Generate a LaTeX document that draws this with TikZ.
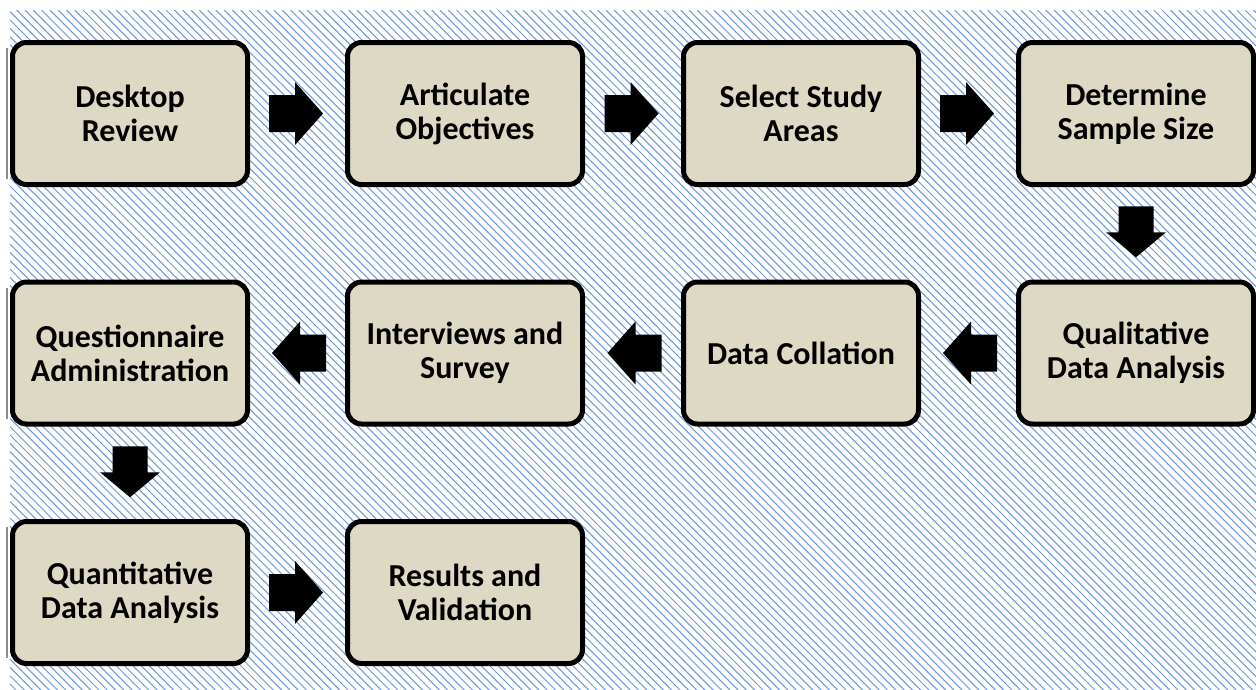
\documentclass[tikz,border=0pt]{standalone}
\usepackage{fontspec}
\setmainfont{Carlito}
\usetikzlibrary{calc}
\definecolor{boxfill}{RGB}{221,217,196}
\definecolor{hatchblue}{RGB}{110,152,214}
\tikzset{
  stepbox/.style={draw=black, line width=5pt, fill=boxfill, rounded corners=14pt,
    minimum width=235pt, minimum height=142pt, align=center,
    font=\fontsize{32pt}{34pt}\selectfont\bfseries, text=black},
  hatchline/.style={draw=hatchblue, line width=1.0pt},
  edgeline/.style={draw=black!45, line width=1.5pt},
  rarrow/.pic={\fill[black] (-27,-18.5) -- (-1,-18.5) -- (-1,-31.5) -- (27,0) -- (-1,31.5) -- (-1,18.5) -- (-27,18.5) -- cycle;},
  darrow/.pic={\fill[black] (-17.5,-25.5) -- (17.5,-25.5) -- (17.5,0.5) -- (30,0.5) -- (0,25.5) -- (-30,0.5) -- (-17.5,0.5) -- cycle;}
}
\begin{document}
\begin{tikzpicture}[x=1pt,y=-1pt]
\useasboundingbox (0,0) rectangle (1256,689);
\fill[white] (0,0) rectangle (1256,689);
\begin{scope}
  \clip (10,10) rectangle (1256,689);
  \foreach \i in {-86,...,152} \draw[hatchline] (\i*8.3,10) -- ++(690,690);
\end{scope}
% row 1
\node[stepbox] (desk)   at (130,113.5)  {Desktop\\Review};
\node[stepbox] (artic)  at (465,113.5)  {Articulate\\Objectives};
\node[stepbox] (select) at (801,113.5)  {Select Study\\Areas};
\node[stepbox] (sample) at (1136,113.5) {Determine\\Sample Size};
% row 2
\node[stepbox] (qual)   at (1136,353) {Qualitative\\Data Analysis};
\node[stepbox] (coll)   at (801,353)  {Data Collation};
\node[stepbox] (inter)  at (465,353)  {Interviews and\\Survey};
\node[stepbox] (quest)  at (130,353)  {Questionnaire\\Administration};
% row 3
\node[stepbox] (quant)   at (130,592.5) {Quantitative\\Data Analysis};
\node[stepbox] (results) at (465,592.5) {Results and\\Validation};
% thin edge lines on the left column
\foreach \n in {desk,quest,quant}
  \draw[edgeline] ($(\n.north west)+(-3,8)$) -- ($(\n.south west)+(-3,-8)$);
% arrows
\pic at ($(desk.east)!0.5!(artic.west)+(-1.5,0)$) {rarrow};
\pic at ($(artic.east)!0.5!(select.west)+(-1.5,0)$) {rarrow};
\pic at ($(select.east)!0.5!(sample.west)+(-1.5,0)$) {rarrow};
\pic at ($(sample.south)!0.5!(qual.north)+(0,-1.5)$) {darrow};
\pic[rotate=180] at ($(qual.west)!0.5!(coll.east)+(1.5,0)$) {rarrow};
\pic[rotate=180] at ($(coll.west)!0.5!(inter.east)+(1.5,0)$) {rarrow};
\pic[rotate=180] at ($(inter.west)!0.5!(quest.east)+(1.5,0)$) {rarrow};
\pic at ($(quest.south)!0.5!(quant.north)+(0,-1)$) {darrow};
\pic at ($(quant.east)!0.5!(results.west)+(-1.5,0)$) {rarrow};
\end{tikzpicture}
\end{document}
